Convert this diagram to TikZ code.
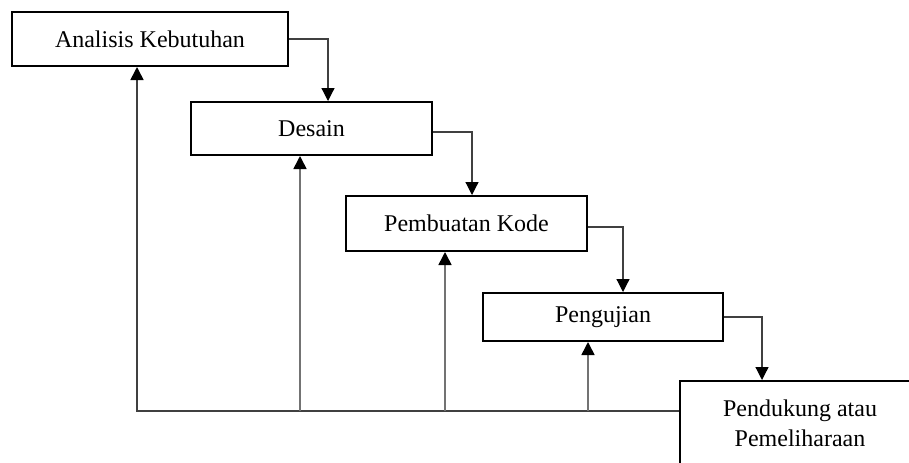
\documentclass[tikz,border=0pt]{standalone}
\usepackage{fontspec}
\setmainfont{Liberation Serif}
\usetikzlibrary{arrows.meta}

\begin{document}
\begin{tikzpicture}[
    x=0.5pt, y=-0.5pt,
    phase/.style={draw, line width=1pt, minimum height=27pt, inner sep=0pt, font=\fontsize{12}{15}\selectfont},
    flow/.style={draw=black!75, line width=0.6pt, -{Triangle[width=6.5pt,length=6.5pt,black]}},
    back/.style={draw=black!55, line width=0.8pt, -{Triangle[width=6.5pt,length=6.5pt,black]}}
]
    \clip (0,0) rectangle (909,462);
    \node[phase, minimum width=138pt] (analisis) at (150,39) {Analisis Kebutuhan};
    \node[phase, minimum width=120.5pt, minimum height=26.5pt] (desain) at (311.5,128.5) {Desain};
    \node[phase, minimum width=120.5pt, minimum height=27.5pt] (kode) at (466.5,223.5) {Pembuatan Kode};
    \node[phase, minimum width=120pt, minimum height=24pt] (uji) at (603,317) {Pengujian};
    \node[phase, minimum width=120pt, minimum height=42pt, align=center] (pelihara) at (800,423) {Pendukung atau\\Pemeliharaan};

    \draw[flow] (analisis.east) -| ([xshift=8.25pt]desain.north);
    \draw[flow] ([yshift=-1.75pt]desain.east) -| ([xshift=2.75pt]kode.north);
    \draw[flow] ([yshift=-1.75pt]kode.east) -| ([xshift=10pt]uji.north);
    \draw[flow] (uji.east) -| ([xshift=-19pt]pelihara.north);

    \coordinate (balik) at ([yshift=6pt]pelihara.west);
    \draw[back, draw=black!75] (balik) -| ([xshift=-6.5pt]analisis.south);
    \draw[back] ([xshift=-5.75pt]desain.south |- balik) -- ([xshift=-5.75pt]desain.south);
    \draw[back] ([xshift=-10.75pt]kode.south |- balik) -- ([xshift=-10.75pt]kode.south);
    \draw[back] ([xshift=-7.5pt]uji.south |- balik) -- ([xshift=-7.5pt]uji.south);
\end{tikzpicture}
\end{document}
